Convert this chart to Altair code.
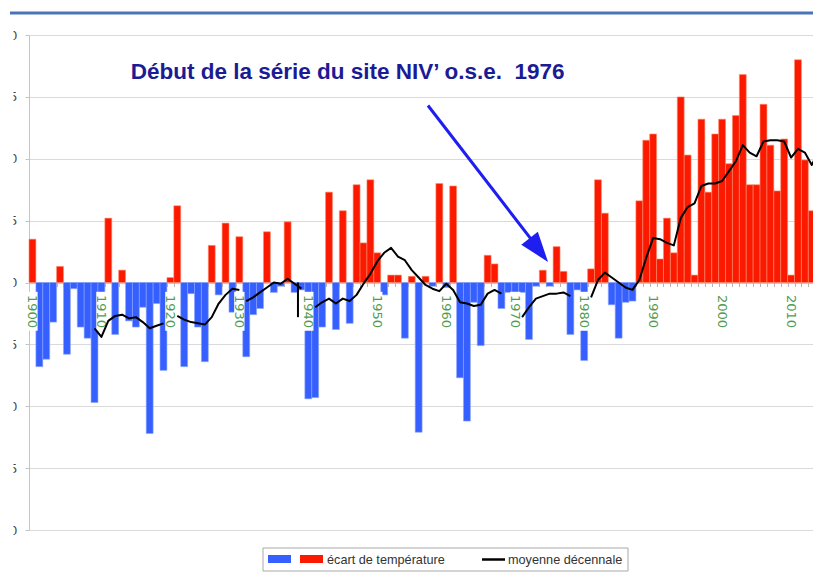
import altair as alt
import pandas as pd

# ---------------- data ----------------
years = list(range(1900, 2015))
anomaly = [
    0.35, -0.68, -0.62, -0.32, 0.13, -0.58, -0.05, -0.36, -0.45, -0.97,   # 1900-1909
    -0.25, 0.52, -0.42, 0.10, -0.31, -0.36, -0.20, -1.22, -0.17, -0.71,   # 1910-1919
    0.04, 0.62, -0.68, -0.09, -0.36, -0.64, 0.30, -0.10, 0.48, -0.24,     # 1920-1929
    0.37, -0.60, -0.26, -0.21, 0.41, -0.08, -0.03, 0.49, -0.08, -0.06,    # 1930-1939
    -0.94, -0.93, -0.36, 0.73, -0.38, 0.58, -0.33, 0.79, 0.32, 0.83,      # 1940-1949
    0.24, -0.10, 0.06, 0.06, -0.45, 0.05, -1.21, 0.05, -0.03, 0.80,       # 1950-1959
    -0.04, 0.78, -0.77, -1.12, -0.16, -0.51, 0.22, 0.15, -0.21, -0.08,    # 1960-1969
    -0.08, -0.08, -0.46, -0.03, 0.10, -0.03, 0.29, 0.09, -0.42, -0.06,    # 1970-1979
    -0.63, 0.11, 0.83, 0.56, -0.18, -0.45, -0.16, -0.15, 0.66, 1.15,      # 1980-1989
    1.20, 0.19, 0.52, 0.24, 1.50, 1.03, 0.06, 1.32, 0.73, 1.20,           # 1990-1999
    1.32, 0.96, 1.35, 1.68, 0.79, 0.79, 1.44, 1.11, 0.74, 1.16,           # 2000-2009
    0.06, 1.80, 0.99, 0.58, 1.92,                                         # 2010-2014
]

# moyenne décennale (drawn in separate pieces, as in the original)
ma_year = (
    [1909, 1910, 1911, 1912, 1913, 1914, 1915, 1916, 1917, 1918, 1919]
    + [1921, 1922, 1923, 1924, 1925, 1926, 1927, 1928, 1929, 1930]
    + [1931, 1932, 1933, 1934, 1935, 1936, 1937, 1938, 1939]
    + [1938.5, 1938.5]
    + list(range(1941, 1969))
    + list(range(1971, 1979))
    + list(range(1981, 2015))
)
ma_value = (
    [-0.37, -0.44, -0.31, -0.27, -0.26, -0.29, -0.28, -0.32, -0.37, -0.35, -0.33]
    + [-0.27, -0.30, -0.32, -0.33, -0.34, -0.28, -0.17, -0.10, -0.05, -0.06]
    + [-0.15, -0.12, -0.08, -0.04, 0.00, -0.01, 0.03, -0.01, -0.05]
    + [0.00, -0.28]
    + [-0.20, -0.16, -0.13, -0.17, -0.13, -0.15, -0.10, -0.01, 0.07, 0.17,
       0.24, 0.28, 0.21, 0.18, 0.10, 0.04, -0.02, -0.05, -0.07, -0.01,
       -0.06, -0.16, -0.17, -0.19, -0.18, -0.09, -0.06, -0.09]
    + [-0.28, -0.20, -0.13, -0.11, -0.09, -0.09, -0.08, -0.11]
    + [-0.12, 0.02, 0.08, 0.04, 0.00, -0.04, -0.06, 0.02, 0.20, 0.36,
       0.35, 0.32, 0.30, 0.52, 0.61, 0.64, 0.78, 0.80, 0.80, 0.82,
       0.90, 0.98, 1.11, 1.05, 1.02, 1.14, 1.15, 1.15, 1.14, 1.01,
       1.08, 1.05, 0.95, 1.06]
)
ma_segment = (
    ["a"] * 11 + ["b"] * 10 + ["c"] * 9 + ["d"] * 2 + ["e"] * 28 + ["f"] * 8 + ["g"] * 34
)

decades = list(range(1900, 2020, 10))
y_ticks = [-2.0, -1.5, -1.0, -0.5, 0.0, 0.5, 1.0, 1.5, 2.0]

annotation_text = "Début de la série du site NIV’ o.s.e.\u00a0 1976"
annotation_year, annotation_value = 1945.7, 1.70
arrow_years = [1957.35, 1973.0]
arrow_values = [1.43, 0.30]
arrow_head_year, arrow_head_value = 1973.42, 0.262
legend_labels = ["écart de température", "moyenne décennale"]

# ---------------- style ----------------
RED = "#fb1a00"
BLUE = "#3560ff"
GREEN = "#4f9d4f"
NAVY = "#1b1b96"
ARROW = "#1e1ef0"
TOPLINE = "#4a74b8"

W, H = 800, 495
xs = alt.Scale(domain=[1899.5, 2015.5], nice=False, zero=False)
ys = alt.Scale(domain=[-2, 2], nice=False, zero=False)

x_axis = alt.Axis(
    values=[y - 0.5 for y in years] + [years[-1] + 0.5],
    labels=False, ticks=True, tickSize=4, tickColor="#b5b5b5",
    domainColor="#b5b5b5", grid=False, title=None, offset=-H / 2,
)
y_axis = alt.Axis(
    values=y_ticks,
    labelExpr="replace(format(datum.value, '.1f'), '.', ',')",
    grid=True, gridColor="#dadada", gridWidth=1,
    tickSize=4, tickColor="#c4c4c4", domainColor="#c4c4c4",
    labelPadding=8, labelFont="DejaVu Sans", labelFontSize=12,
    labelColor="#444444", title=None,
)


def X(field):
    return alt.X(field, scale=xs, axis=x_axis)


def Y(field):
    return alt.Y(field, scale=ys, axis=y_axis)


bars_df = pd.DataFrame({"year": years, "anomaly": anomaly})
bars = (
    alt.Chart(bars_df)
    .transform_calculate(
        x0="datum.year - 0.5",
        x1="datum.year + 0.5",
        zero="0",
        sign="datum.anomaly >= 0 ? 'chaud' : 'froid'",
    )
    .mark_rect(strokeWidth=0.6)
    .encode(
        x=X("x0:Q"),
        x2="x1:Q",
        y=Y("anomaly:Q"),
        y2="zero:Q",
        color=alt.Color("sign:N", scale=alt.Scale(domain=["chaud", "froid"], range=[RED, BLUE]), legend=None),
        stroke=alt.Stroke("sign:N", scale=alt.Scale(domain=["chaud", "froid"], range=["#ff8a6a", "#8aa2ff"]), legend=None),
    )
)

dec_df = pd.DataFrame({"year": decades})
label_bg = (
    alt.Chart(dec_df)
    .transform_calculate(x0="datum.year - 0.75", x1="datum.year + 0.75", yt="-0.075", yb="-0.39")
    .mark_rect(color="white")
    .encode(x=X("x0:Q"), x2="x1:Q", y=Y("yt:Q"), y2="yb:Q")
)
label_txt = (
    alt.Chart(dec_df)
    .transform_calculate(ly="-0.10")
    .mark_text(angle=90, align="left", baseline="middle", font="DejaVu Sans", fontSize=13, color=GREEN)
    .encode(x=X("year:Q"), y=Y("ly:Q"), text=alt.Text("year:N"))
)

ma_df = pd.DataFrame({"year": ma_year, "value": ma_value, "segment": ma_segment})
ma_line = (
    alt.Chart(ma_df)
    .mark_line(color="black", strokeWidth=2, strokeJoin="round")
    .encode(x=X("year:Q"), y=Y("value:Q"), detail="segment:N")
)

ann_df = pd.DataFrame({"x": [annotation_year], "y": [annotation_value], "label": [annotation_text]})
annotation = (
    alt.Chart(ann_df)
    .mark_text(font="Liberation Sans", fontWeight="bold", fontSize=22.5, color=NAVY,
               align="center", baseline="middle")
    .encode(x=X("x:Q"), y=Y("y:Q"), text="label:N")
)

arrow_df = pd.DataFrame({"x": arrow_years, "y": arrow_values})
arrow_line = (
    alt.Chart(arrow_df)
    .mark_line(color=ARROW, strokeWidth=3)
    .encode(x=X("x:Q"), y=Y("y:Q"))
)
head_df = pd.DataFrame({"x": [arrow_head_year], "y": [arrow_head_value]})
arrow_head = (
    alt.Chart(head_df)
    .mark_point(shape="M0,-1L0.7,1L-0.7,1Z", filled=True, size=900, angle=142,
                color=ARROW, opacity=1)
    .encode(x=X("x:Q"), y=Y("y:Q"))
)

one = pd.DataFrame({"k": [0]})
top_line = alt.Chart(one).mark_rule(color=TOPLINE, strokeWidth=3).encode(
    x=alt.value(-19), x2=alt.value(W), y=alt.value(-22)
)

# the original is a cropped screenshot: its left edge hides most of the y labels
crop_mask = alt.Chart(one).mark_rect(fill="white").encode(
    x=alt.value(-22), x2=alt.value(-15.5), y=alt.value(-12), y2=alt.value(505)
)

# legend (drawn by hand: two swatches share one label)
leg_box = alt.Chart(one).mark_rect(fill="white", stroke="#a8a8a8", strokeWidth=1).encode(
    x=alt.value(234), x2=alt.value(599), y=alt.value(513), y2=alt.value(536)
)
leg_blue = alt.Chart(one).mark_rect(fill=BLUE).encode(
    x=alt.value(239), x2=alt.value(262), y=alt.value(520), y2=alt.value(528)
)
leg_red = alt.Chart(one).mark_rect(fill=RED).encode(
    x=alt.value(271), x2=alt.value(294), y=alt.value(520), y2=alt.value(528)
)
leg_txt1 = alt.Chart(pd.DataFrame({"label": [legend_labels[0]]})).mark_text(
    font="Liberation Sans", fontSize=12.7, color="#333333", align="left", baseline="middle"
).encode(x=alt.value(298), y=alt.value(524.5), text="label:N")
leg_line = alt.Chart(one).mark_rule(color="black", strokeWidth=2.5).encode(
    x=alt.value(453), x2=alt.value(476), y=alt.value(524.5)
)
leg_txt2 = alt.Chart(pd.DataFrame({"label": [legend_labels[1]]})).mark_text(
    font="Liberation Sans", fontSize=12.7, color="#333333", align="left", baseline="middle"
).encode(x=alt.value(479), y=alt.value(524.5), text="label:N")

chart = (
    alt.layer(
        bars, label_bg, label_txt, ma_line, annotation, arrow_line, arrow_head,
        top_line, crop_mask,
        leg_box, leg_blue, leg_red, leg_txt1, leg_line, leg_txt2,
    )
    .properties(
        width=W, height=H,
        autosize=alt.AutoSizeParams(type="none"),
        padding={"left": 21, "top": 27, "right": -16, "bottom": 43},
        background="white",
    )
    .configure_view(stroke=None)
)

chart.save("out.html", embed_options={"renderer": "svg", "actions": False})
